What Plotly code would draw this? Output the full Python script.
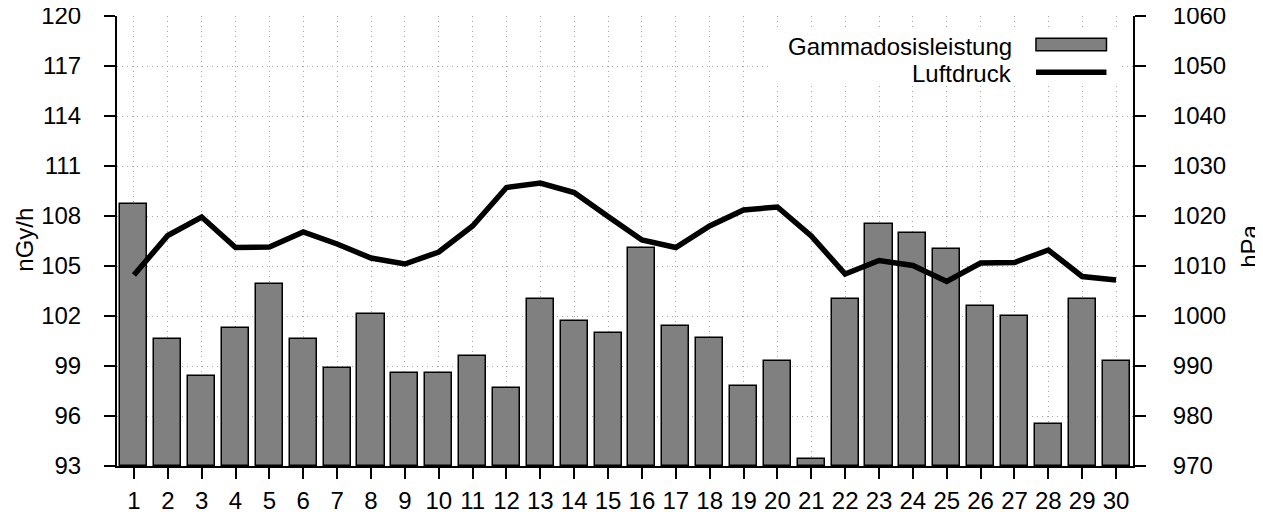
import plotly.graph_objects as go

days = list(range(1, 31))
gamma = [108.7, 100.6, 98.4, 101.3, 103.9, 100.6, 98.9, 102.1, 98.6, 98.6,
         99.6, 97.7, 103.0, 101.7, 101.0, 106.1, 101.4, 100.7, 97.8, 99.3,
         93.4, 103.0, 107.5, 107.0, 106.0, 102.6, 102.0, 95.5, 103.0, 99.3]
pressure = [1008.2, 1016.1, 1019.8, 1013.7, 1013.8, 1016.8, 1014.4, 1011.6, 1010.4, 1012.8,
            1018.0, 1025.7, 1026.6, 1024.7, 1019.9, 1015.2, 1013.7, 1018.0, 1021.2, 1021.8,
            1016.0, 1008.4, 1011.1, 1010.1, 1006.9, 1010.6, 1010.7, 1013.2, 1007.9, 1007.2]
left_ticks = list(range(93, 121, 3))
right_ticks = list(range(970, 1061, 10))

FONT = "Liberation Sans, Arial, sans-serif"
FS = 24
GRID = "#a6a6a6"

fig = go.Figure()
fig.add_trace(go.Bar(x=days, y=[g - 93 for g in gamma], base=93, width=0.8,
                     marker=dict(color="#808080", line=dict(color="black", width=1.5)),
                     name="Gammadosisleistung", showlegend=False))
fig.add_trace(go.Scatter(x=days, y=pressure, mode="lines", yaxis="y2",
                         line=dict(color="black", width=5.5),
                         name="Luftdruck", showlegend=False))

# page body has an 8px margin, so the figure is 8px smaller and offset
fig.update_layout(
    width=1255, height=504,
    margin=dict(l=109, r=130, t=8, b=46, autoexpand=False),
    plot_bgcolor="white", paper_bgcolor="white",
    font=dict(family=FONT, size=FS, color="black"),
    bargap=0,
    xaxis=dict(range=[0.5, 30.5], tickmode="array", tickvals=days,
               ticktext=[str(d) for d in days], automargin=False,
               showline=True, linecolor="black", linewidth=2,
               ticks="outside", ticklen=11, tickwidth=2, tickcolor="black",
               showgrid=True, gridcolor=GRID, gridwidth=1, griddash="1px,4px",
               zeroline=False, ticklabelstandoff=1, ticklabeloverflow="allow",
               tickfont=dict(size=FS)),
    yaxis=dict(range=[93, 120], tickmode="array", tickvals=left_ticks,
               ticktext=[str(t) for t in left_ticks], automargin=False,
               showline=True, linecolor="black", linewidth=2,
               ticks="outside", ticklen=11, tickwidth=2, tickcolor="black",
               showgrid=True, gridcolor=GRID, gridwidth=1, griddash="1px,4px",
               zeroline=False, ticklabelstandoff=18, ticklabeloverflow="allow",
               tickfont=dict(size=FS)),
    yaxis2=dict(range=[970, 1060], tickmode="array", tickvals=right_ticks,
                ticktext=[str(t) for t in right_ticks], automargin=False,
                overlaying="y", side="right",
                showline=True, linecolor="black", linewidth=2,
                ticks="outside", ticklen=11, tickwidth=2, tickcolor="black",
                showgrid=False, zeroline=False, ticklabelstandoff=22,
                ticklabeloverflow="allow", tickfont=dict(size=FS)),
)

# axis titles
fig.add_annotation(text="nGy/h", xref="paper", yref="paper", x=-0.091, y=0.502,
                   textangle=-90, showarrow=False, xanchor="center", yanchor="middle",
                   font=dict(size=FS))
fig.add_annotation(text="hPa", xref="paper", yref="paper", x=1.115, y=0.489,
                   textangle=-90, showarrow=False, xanchor="center", yanchor="middle",
                   font=dict(size=FS))

# legend (gnuplot style: text left, sample right)
fig.add_shape(type="rect", xref="paper", yref="paper", x0=0.6427, x1=0.987,
              y0=0.8444, y1=0.9667, fillcolor="white", line=dict(width=0), layer="above")
fig.add_shape(type="rect", xref="paper", yref="paper", x0=0.9045, x1=0.9739,
              y0=0.9229, y1=0.9504, fillcolor="#808080",
              line=dict(color="black", width=1.5), layer="above")
fig.add_shape(type="line", xref="paper", yref="paper", x0=0.9045, x1=0.9739,
              y0=0.8749, y1=0.8749, line=dict(color="black", width=5.5), layer="above")
fig.add_annotation(text="Gammadosisleistung", xref="paper", yref="paper", x=0.883, y=0.9333,
                   showarrow=False, xanchor="right", yanchor="middle", font=dict(size=FS))
fig.add_annotation(text="Luftdruck", xref="paper", yref="paper", x=0.883, y=0.8727,
                   showarrow=False, xanchor="right", yanchor="middle", font=dict(size=FS))

fig.write_html("out.html")
